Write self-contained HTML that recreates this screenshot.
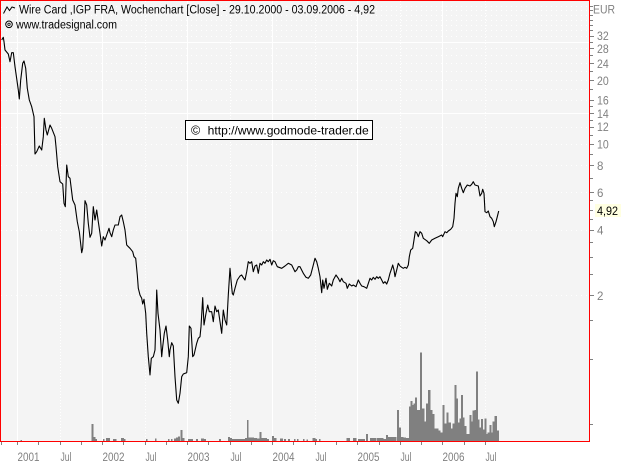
<!DOCTYPE html>
<html><head><meta charset="utf-8"><style>
html,body{margin:0;padding:0;background:#fff;}
svg{display:block;}
text{font-family:"Liberation Sans",Arial,sans-serif;}
</style></head><body>
<svg width="624" height="465" viewBox="0 0 624 465" xmlns="http://www.w3.org/2000/svg">
<rect x="0" y="0" width="624" height="465" fill="#ffffff"/>
<rect x="0" y="0" width="589" height="441" fill="#f4f4f4"/>
<path fill="none" stroke="#ffffff" stroke-width="1" stroke-dasharray="1 4" shape-rendering="crispEdges" d="M1 6.5H589M1 10.5H589M1 15.5H589M1 20.5H589M1 25.5H589M1 30.5H589M1 36.5H589M1 48.5H589M1 55.5H589M1 63.5H589M1 71.5H589M1 80.5H589M1 89.5H589M1 100.5H589M1 127.5H589M1 144.5H589M1 165.5H589M1 192.5H589M1 230.5H589M1 295.5H589"/>
<path fill="none" stroke="#ffffff" stroke-width="1" stroke-dasharray="1 2" shape-rendering="crispEdges" d="M60.5 1V441M145.5 1V441M230.5 1V441M315.5 1V441M400.5 1V441M485.5 1V441"/>
<path fill="none" stroke="#ffffff" stroke-width="1" shape-rendering="crispEdges" d="M1 42.5H589M1 113.5H589M17.5 1V441M102.5 1V441M187.5 1V441M272.5 1V441M357.5 1V441M442.5 1V441"/>
<path fill="#808080" shape-rendering="crispEdges" d="M20.5 440h1.5V441h-1.5zM91.5 424h1.8V441h-1.8zM93.5 437h1.8V441h-1.8zM95.5 439h1.5V441h-1.5zM103 439h1.5V441h-1.5zM106 438h4V441h-4zM113 439h3.5V441h-3.5zM121 438h3V441h-3zM124 439h1.5V441h-1.5zM146 439h1.5V441h-1.5zM155 438.5h1.5V441h-1.5zM168 439h1.5V441h-1.5zM171 439h1.5V441h-1.5zM174 438.5h2V441h-2zM176 437.5h2V441h-2zM178 436.5h1.8V441h-1.8zM180.5 430h1.8V441h-1.8zM182.5 438h1.8V441h-1.8zM188 439h5V441h-5zM196 439h2V441h-2zM201 438.5h3V441h-3zM204 439h2V441h-2zM219 439h2V441h-2zM228 437h1.8V441h-1.8zM230 438h2V441h-2zM232 439h13V441h-13zM245 438h1.8V441h-1.8zM246.8 420h1.8V441h-1.8zM248.5 437.5h5.5V441h-5.5zM254 438h3V441h-3zM257 438.5h2.5V441h-2.5zM259.5 432h1.8V441h-1.8zM261.2 438h6V441h-6zM267 439h2V441h-2zM272 436h1.8V441h-1.8zM273.7 438h3V441h-3zM280 438.5h3V441h-3zM284 439h2V441h-2zM288 439h2V441h-2zM294 439h1.5V441h-1.5zM297 439h1.5V441h-1.5zM303 439h1.5V441h-1.5zM306.5 439.3h1.5V441h-1.5zM312.5 438h3V441h-3zM315.5 439h1.5V441h-1.5zM319 439h1.5V441h-1.5zM346.7 438h3.3V441h-3.3zM353 438h3.7V441h-3.7zM358 439h7V441h-7zM366 434h1.9V441h-1.9zM370 438h6.3V441h-6.3zM377 438h6.3V441h-6.3zM383 439h3.2V441h-3.2zM386 435h2V441h-2zM388 437h8.3V441h-8.3zM397 410h2V441h-2zM399 427.3h2V441h-2zM401 437h2.5V441h-2.5zM403.3 437.3h2.5V441h-2.5zM405.7 438h3.3V441h-3.3zM409 406.7h2V441h-2zM410.7 401h1.6V441h-1.6zM412 405h1.6V441h-1.6zM413.3 403.3h2V441h-2zM415 397.3h2V441h-2zM416.7 410h3.6V441h-3.6zM420 352.7h2V441h-2zM421.7 408.3h2.6V441h-2.6zM424 421.7h2.3V441h-2.3zM426 403.3h2.3V441h-2.3zM428 390h2.3V441h-2.3zM430 410h2.3V441h-2.3zM432 414h2.3V441h-2.3zM434 428.3h4.3V441h-4.3zM438 430.7h2.3V441h-2.3zM440 432.7h3V441h-3zM442.7 405h1.9V441h-1.9zM444.3 423.3h2.7V441h-2.7zM446.7 412.7h1.9V441h-1.9zM448.3 422.7h2.7V441h-2.7zM450.7 428.3h2.3V441h-2.3zM452.7 423.3h1.9V441h-1.9zM454.3 385h2V441h-2zM456 398.3h2V441h-2zM457.7 422.7h1.9V441h-1.9zM459.3 418.3h2V441h-2zM461 395h2V441h-2zM462.7 417.7h1.9V441h-1.9zM464.3 426h2V441h-2zM466 434h3.6V441h-3.6zM469.3 415h2V441h-2zM471 421.7h2V441h-2zM472.7 410.7h1.9V441h-1.9zM474.3 410h2V441h-2zM476 371.7h2V441h-2zM477.7 419.3h1.9V441h-1.9zM479.3 427.3h2V441h-2zM481 419h2V441h-2zM482.7 429.3h1.9V441h-1.9zM484.3 418.3h2V441h-2zM486 434h2V441h-2zM487.7 432.7h1.9V441h-1.9zM489.3 425h2V441h-2zM491 432.7h2V441h-2zM492.7 421.7h1.9V441h-1.9zM494.3 416h2.7V441h-2.7zM496.7 430.7h2.3V441h-2.3z"/>
<polyline fill="none" stroke="#000000" stroke-width="1.1" stroke-linejoin="round" points="1.7,40 3.3,37.3 4,41.7 5,50 8.3,54 10,61.7 11.7,52.7 13.3,52.7 15,66.7 18.3,90 19.3,99 20.7,80 22.7,63.3 24,61 25.7,68.3 27.3,88.3 29.3,100 31.7,106.7 34,116.7 35,154 36.7,151.7 39.3,146 41.7,150 43.3,136.7 44.3,118.3 46,130 47.3,135 50,125 51.7,128.3 55,136.7 56,146.7 57.7,166.7 60,181.7 62.7,184 64,203.3 65.3,206.7 66.7,165 68.3,176.7 70,178.3 72.7,200 75,205 77.3,221.7 79.3,231.7 81.7,252.7 82.7,248.3 84,223.3 85,200.7 86.7,205 88.3,223.3 90,237.3 91.7,233.3 93.3,206.7 95,220 96.7,210 98.3,221.7 100,233.3 101.7,246 103.3,236.7 105,240 106.7,235 109,228.3 110,232.7 111.7,236.7 113.3,230 115,225 118.3,225 120,216.7 121.7,215 123.3,221.7 125,230 126.7,245 130,248.3 132.7,251.7 134,256.7 135.7,258.3 137.3,275 138.3,288.3 140,295 141.7,298.3 142.7,304 144,299.3 145.7,313.3 146.7,333.3 148.3,356.7 150,375 151.3,358.3 153.3,356.7 155,350 156,318.3 156.7,290 158,313.3 160,330 161.7,356.7 162.7,346.7 164.3,333.3 166,326 167.7,340 169.3,356.7 170,350 171.7,342.7 173.3,346 175,376.7 176.7,400 178.3,403.3 180,393.3 181.7,376.7 183.3,374 186.7,372.7 188.3,356.7 189.3,326 191,328.3 192.7,356.7 194,355 196.7,343.3 198.3,338.3 200,336.7 201,326.7 202.7,297.7 204,325 206,313.3 207.7,305 209.3,311.7 211.7,311.7 213.3,321.7 215,306 216.7,311.7 218.3,310 220,321.7 221.7,333.3 223.3,310 225,320 226.7,325 228.3,295 230,268.3 231,280 232.3,293.3 233.3,295 235,288.3 237.3,280 240,276 241.7,275 243.3,277.7 245,280 246.7,271.7 248.3,261.7 250,263.3 251.7,261.7 253.3,271.7 255,266 256.7,265 258.3,273.3 260,263.3 261.7,265 263.3,261.7 265,263.3 266.7,260 268.3,261.7 270,259.3 271.7,265 273.3,260.7 275,261.7 277.3,266.7 281.7,268.3 285,266 288.3,263.3 291.7,265 295,271.7 296.7,270 298.3,266.7 300,266.7 303.3,273.3 306,277.3 308.3,278.3 310.7,275 313.3,265 315,258.3 316.7,261.7 318.3,268.3 320,276.7 321.7,292.7 322.7,280 324,288.3 326,278.3 327.3,289.3 329.3,283.3 331.7,286 333.3,280 336,275 338.3,278.3 340,281.7 341.7,278.3 343.3,281.7 346,283.3 347.3,288.3 349.3,284 351.7,286 353.3,285 356,286.7 358.3,280 360,283.3 361.7,286 364,286.7 366.7,288.3 370,278.3 371.7,280 373.3,277.3 375,279.3 376.7,276.7 378.3,278.3 380,276.7 381.7,280 383.3,283.3 385,281.7 386.7,284 388.3,280 390,273.3 391.7,268.3 392.7,265 394,270 395,276.7 396.7,270 398.3,263.3 400,266 401.7,267.3 403.3,268.3 405,267.3 406.7,268.3 408.3,265 409.3,256.7 410.7,250 412.7,248.3 414,240 415.3,231.7 416.7,232.7 418.3,236.7 420,231.7 421.7,233.3 423.3,238.3 426.7,240.7 429.3,243.3 431.7,240 435,238.3 438.3,236.7 441.7,235 442.7,236.7 445,231.7 446.7,232.7 448.3,231 450.7,229.3 452.7,226.7 454,218.3 455,203.3 456,193.3 457.3,196.7 458.3,188.3 460,182.7 461.7,188.3 463.3,192.7 465,188.3 467.3,185 470,186 471.7,184.3 473.3,181.7 475,185 478.3,186 480,196 481.7,193.3 482.7,189.3 484,193.3 485,211.7 486.7,212.7 488.3,211 490,216.7 491.7,218.3 493.3,221.7 494.3,226.7 496,221.7 497.3,216.7 498.7,211"/>
<path fill="none" stroke="#ff0000" stroke-width="1" shape-rendering="crispEdges" d="M0 0.5H590M0.5 0V442M589.5 0V442M0 441.5H590"/>
<polyline fill="none" stroke="#000" stroke-width="1" points="3.5,13.5 7,7 9.5,10.5 12,7 15,8"/>
<text x="19" y="13.5" font-size="11.5" fill="#000" textLength="356" lengthAdjust="spacingAndGlyphs">Wire Card ,IGP FRA, Wochenchart [Close] - 29.10.2000 - 03.09.2006 - 4,92</text>
<circle cx="9" cy="24.3" r="3.3" fill="none" stroke="#000" stroke-width="1"/>
<circle cx="9" cy="24.3" r="1.2" fill="none" stroke="#000" stroke-width="0.8"/>
<text x="16" y="28.5" font-size="11.5" fill="#000" textLength="101" lengthAdjust="spacingAndGlyphs">www.tradesignal.com</text>
<rect x="185.5" y="120.5" width="187" height="19" fill="#ffffff" stroke="#000" stroke-width="1" shape-rendering="crispEdges"/>
<text x="191" y="134.3" font-size="12.5" fill="#000">©</text>
<text x="207.7" y="134.3" font-size="12" fill="#000" textLength="161" lengthAdjust="spacingAndGlyphs">http://www.godmode-trader.de</text>
<path fill="none" stroke="#808080" stroke-width="1" shape-rendering="crispEdges" d="M590 6.5h3M590 10.5h3M590 15.5h3M590 20.5h3M590 25.5h3M590 30.5h3M590 36.5h4M590 42.5h3M590 48.5h4M590 55.5h3M590 63.5h4M590 71.5h3M590 80.5h4M590 89.5h3M590 100.5h4M590 106.5h3M590 113.5h4M590 120.5h3M590 127.5h4M590 135.5h3M590 144.5h4M590 154.5h3M590 165.5h4M590 178.5h3M590 192.5h4M590 200.5h3M590 210.5h3M590 219.5h3M590 230.5h4M590 242.5h3M590 257.5h3M590 274.5h3M590 295.5h4M590 320.5h3M590 359.5h3M590 424.5h3"/>
<g font-size="11.5" fill="#808080">
<text x="593" y="13.5" textLength="22" lengthAdjust="spacingAndGlyphs">EUR</text>
<text x="597" y="40" textLength="11.7" lengthAdjust="spacingAndGlyphs">32</text>
<text x="597" y="53" textLength="11.7" lengthAdjust="spacingAndGlyphs">28</text>
<text x="597" y="68" textLength="11.7" lengthAdjust="spacingAndGlyphs">24</text>
<text x="597" y="85" textLength="11.7" lengthAdjust="spacingAndGlyphs">20</text>
<text x="597" y="104.5" textLength="11.7" lengthAdjust="spacingAndGlyphs">16</text>
<text x="597" y="118" textLength="11.7" lengthAdjust="spacingAndGlyphs">14</text>
<text x="597" y="131" textLength="11.7" lengthAdjust="spacingAndGlyphs">12</text>
<text x="597" y="148.5" textLength="11.7" lengthAdjust="spacingAndGlyphs">10</text>
<text x="597" y="170">8</text>
<text x="597" y="197">6</text>
<text x="597" y="234.5">4</text>
<text x="597" y="300">2</text>
</g>
<rect x="595" y="204" width="26" height="13" fill="#ffffe1"/>
<text x="597" y="215" font-size="11.5" fill="#000" textLength="21" lengthAdjust="spacingAndGlyphs">4,92</text>
<path fill="none" stroke="#808080" stroke-width="1" shape-rendering="crispEdges" d="M1.5 442v3M17.5 442v3M38.5 442v3M60.5 442v3M81.5 442v3M102.5 442v3M123.5 442v3M145.5 442v3M166.5 442v3M187.5 442v3M208.5 442v3M230.5 442v3M251.5 442v3M272.5 442v3M293.5 442v3M315.5 442v3M336.5 442v3M357.5 442v3M379.5 442v3M400.5 442v3M421.5 442v3M442.5 442v3M464.5 442v3M485.5 442v3"/>
<g font-size="11.5" fill="#808080">
<text x="17.5" y="461" textLength="22" lengthAdjust="spacingAndGlyphs">2001</text>
<text x="60.5" y="461" textLength="11" lengthAdjust="spacingAndGlyphs">Jul</text>
<text x="102.5" y="461" textLength="22" lengthAdjust="spacingAndGlyphs">2002</text>
<text x="145.5" y="461" textLength="11" lengthAdjust="spacingAndGlyphs">Jul</text>
<text x="187.5" y="461" textLength="22" lengthAdjust="spacingAndGlyphs">2003</text>
<text x="230.5" y="461" textLength="11" lengthAdjust="spacingAndGlyphs">Jul</text>
<text x="272.5" y="461" textLength="22" lengthAdjust="spacingAndGlyphs">2004</text>
<text x="315.5" y="461" textLength="11" lengthAdjust="spacingAndGlyphs">Jul</text>
<text x="357.5" y="461" textLength="22" lengthAdjust="spacingAndGlyphs">2005</text>
<text x="400.5" y="461" textLength="11" lengthAdjust="spacingAndGlyphs">Jul</text>
<text x="442.5" y="461" textLength="22" lengthAdjust="spacingAndGlyphs">2006</text>
<text x="485.5" y="461" textLength="11" lengthAdjust="spacingAndGlyphs">Jul</text>
</g>
</svg>
</body></html>
